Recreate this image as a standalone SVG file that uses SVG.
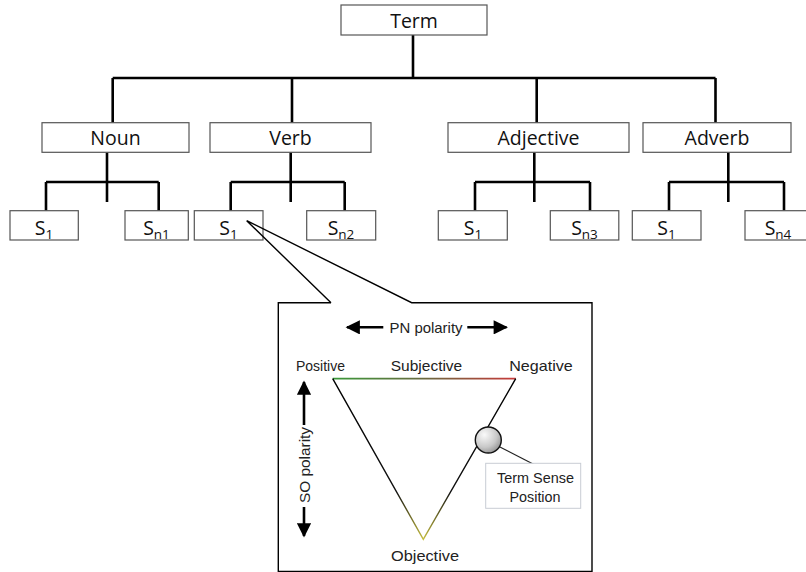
<svg xmlns="http://www.w3.org/2000/svg" width="806" height="572" viewBox="0 0 806 572">
<defs>
<style>
.box{fill:#fff;stroke:#555;stroke-width:1.2}
.lbl{font-family:"Open Sans","Liberation Sans",sans-serif;font-size:19.5px;fill:#111;text-anchor:middle}
.sub{font-size:13.5px}
.tree{fill:none;stroke:#000;stroke-width:2.6}
.call{fill:none;stroke:#000;stroke-width:1.4}
.fig{font-family:"Liberation Sans","Noto Sans",sans-serif;font-size:15px;fill:#222;text-anchor:middle}
.arr{fill:none;stroke:#000;stroke-width:2.6}
</style>
<marker id="ah" viewBox="0 0 10 10" refX="9" refY="5" markerWidth="6" markerHeight="5.5" markerUnits="strokeWidth" orient="auto">
<path d="M0,0 L10,5 L0,10 Z" fill="#000"/>
</marker>
<linearGradient id="topg" x1="332" y1="0" x2="516" y2="0" gradientUnits="userSpaceOnUse">
<stop offset="0" stop-color="#3a9a3a"/>
<stop offset="0.5" stop-color="#6a6a40"/>
<stop offset="1" stop-color="#c83a3a"/>
</linearGradient>
<linearGradient id="sideg" x1="0" y1="379" x2="0" y2="540" gradientUnits="userSpaceOnUse">
<stop offset="0" stop-color="#000"/>
<stop offset="0.7" stop-color="#111"/>
<stop offset="1" stop-color="#c8c040"/>
</linearGradient>
<radialGradient id="ball" cx="0.35" cy="0.3" r="0.8">
<stop offset="0" stop-color="#fafafa"/>
<stop offset="0.6" stop-color="#c8c8c8"/>
<stop offset="1" stop-color="#8a8a8a"/>
</radialGradient>
</defs>

<g id="connectors">
<path class="tree" d="M413,35 V78 M112.7,78 H715.5 M112.7,78 V122.7 M292,78 V122.7 M536.7,78 V122.7 M715.5,78 V122.7"/>
<path class="tree" d="M107,152.3 V202 M46,182 H158.7 M46,182 V210.7 M158.7,182 V210.7"/>
<path class="tree" d="M290.7,152.3 V202 M230.7,182 H344.7 M230.7,182 V210.7 M344.7,182 V210.7"/>
<path class="tree" d="M534.3,152.3 V202 M475,182 H590 M475,182 V210.7 M590,182 V210.7"/>
<path class="tree" d="M728.3,152.3 V202 M669,182 H784 M669,182 V210.7 M784,182 V210.7"/>
</g>

<g id="term"><rect class="box" x="341" y="5" width="146" height="30"/><text class="lbl" x="414" y="28">Term</text></g>
<g id="noun"><rect class="box" x="42" y="122.7" width="147" height="29.6"/><text class="lbl" x="115.5" y="145">Noun</text></g>
<g id="verb"><rect class="box" x="210" y="122.7" width="161" height="29.6"/><text class="lbl" x="290.5" y="145">Verb</text></g>
<g id="adjective"><rect class="box" x="448" y="122.7" width="181" height="29.6"/><text class="lbl" x="538.5" y="145">Adjective</text></g>
<g id="adverb"><rect class="box" x="643" y="122.7" width="148" height="29.6"/><text class="lbl" x="717" y="145">Adverb</text></g>

<g id="noun-s1"><rect class="box" x="10" y="210.7" width="68.3" height="29.3"/><text class="lbl" x="44" y="235">S<tspan class="sub" dy="4">1</tspan></text></g>
<g id="noun-sn1"><rect class="box" x="125" y="210.7" width="63.3" height="29.3"/><text class="lbl" x="156.5" y="235">S<tspan class="sub" dy="4">n1</tspan></text></g>
<g id="verb-s1"><rect class="box" x="194.3" y="210.7" width="68.7" height="29.3"/><text class="lbl" x="228.5" y="235">S<tspan class="sub" dy="4">1</tspan></text></g>
<g id="verb-sn2"><rect class="box" x="306.7" y="210.7" width="69" height="29.3"/><text class="lbl" x="341" y="235">S<tspan class="sub" dy="4">n2</tspan></text></g>
<g id="adj-s1"><rect class="box" x="438.3" y="210.7" width="69" height="29.3"/><text class="lbl" x="473" y="235">S<tspan class="sub" dy="4">1</tspan></text></g>
<g id="adj-sn3"><rect class="box" x="550.3" y="210.7" width="68.5" height="29.3"/><text class="lbl" x="584.5" y="235">S<tspan class="sub" dy="4">n3</tspan></text></g>
<g id="adv-s1"><rect class="box" x="632.3" y="210.7" width="68.7" height="29.3"/><text class="lbl" x="666.5" y="235">S<tspan class="sub" dy="4">1</tspan></text></g>
<g id="adv-sn4"><rect class="box" x="745" y="210.7" width="70" height="29.3"/><text class="lbl" x="778" y="235">S<tspan class="sub" dy="4">n4</tspan></text></g>

<g id="callout">
<path class="call" d="M331,302.7 L246.7,220.7 L411.7,302.7 H592 V571.5 H278.3 V302.7 H331"/>
</g>

<g id="polarity-figure">
<line class="arr" x1="383.3" y1="327.3" x2="347" y2="327.3" marker-end="url(#ah)"/>
<line class="arr" x1="467.3" y1="327.3" x2="506.5" y2="327.3" marker-end="url(#ah)"/>
<text class="fig" x="426" y="333" textLength="73" lengthAdjust="spacingAndGlyphs">PN polarity</text>

<text class="fig" x="320.5" y="370.5" textLength="49" lengthAdjust="spacingAndGlyphs">Positive</text>
<text class="fig" x="426.5" y="370.5" textLength="71.5" lengthAdjust="spacingAndGlyphs">Subjective</text>
<text class="fig" x="541" y="370.5" textLength="63.5" lengthAdjust="spacingAndGlyphs">Negative</text>
<text class="fig" x="425" y="561" textLength="68" lengthAdjust="spacingAndGlyphs">Objective</text>

<line class="arr" x1="304" y1="425" x2="304" y2="382" marker-end="url(#ah)"/>
<line class="arr" x1="304" y1="507" x2="304" y2="536" marker-end="url(#ah)"/>
<text class="fig" transform="translate(309.5,465) rotate(-90)" x="0" y="0" textLength="76" lengthAdjust="spacingAndGlyphs">SO polarity</text>

<line x1="332.7" y1="378.7" x2="515.7" y2="378.7" stroke="url(#topg)" stroke-width="1.8"/>
<path d="M332.7,378.7 L423.3,539.3 L515.7,378.7" fill="none" stroke="url(#sideg)" stroke-width="1.4" stroke-linejoin="miter"/>

<line x1="498" y1="446" x2="535" y2="465" stroke="#222" stroke-width="1.2"/>
<rect x="485.7" y="463.3" width="95" height="45" fill="#fff" stroke="#c8ccd4" stroke-width="1"/>
<circle cx="488.3" cy="440" r="13" fill="url(#ball)" stroke="#111" stroke-width="1.4"/>
<text class="fig" x="535.5" y="482.7" textLength="77" lengthAdjust="spacingAndGlyphs">Term Sense</text>
<text class="fig" x="535" y="501.7" textLength="51" lengthAdjust="spacingAndGlyphs">Position</text>
</g>
</svg>
